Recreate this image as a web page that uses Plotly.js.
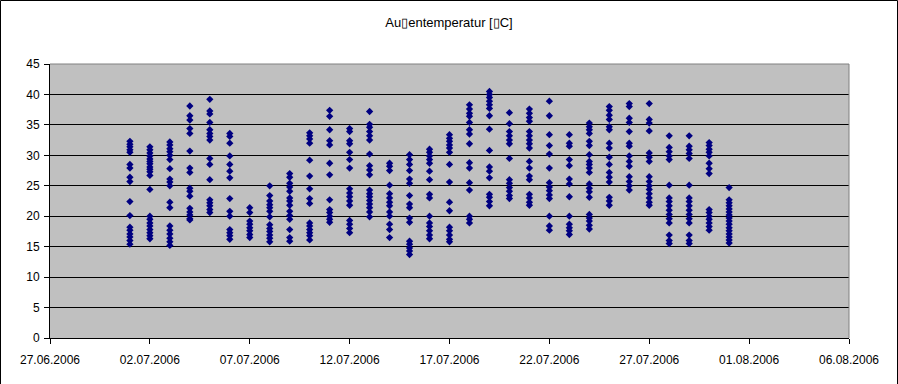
<!DOCTYPE html>
<html>
<head>
<meta charset="utf-8">
<script src="https://cdn.plot.ly/plotly-3.0.1.min.js"></script>
<style>
  html, body { margin: 0; padding: 0; background: #ffffff; }
  #chart { width: 898px; height: 384px; }
</style>
</head>
<body>
<div id="chart"></div>
<script>
// Day of measurement (all hourly readings of a day share the day's date)
const days = [
  '2006-07-01','2006-07-02','2006-07-03','2006-07-04','2006-07-05','2006-07-06','2006-07-07',
  '2006-07-08','2006-07-09','2006-07-10','2006-07-11','2006-07-12','2006-07-13','2006-07-14',
  '2006-07-15','2006-07-16','2006-07-17','2006-07-18','2006-07-19','2006-07-20','2006-07-21',
  '2006-07-22','2006-07-23','2006-07-24','2006-07-25','2006-07-26','2006-07-27','2006-07-28',
  '2006-07-29','2006-07-30','2006-07-31'
];

// Temperature readings per day (°C)
const t01 = [32.3, 31.8, 31.4, 30.9, 30.5, 28.5, 27.9, 26.4, 25.7, 22.4, 20.1, 18.2, 17.7, 17.1, 16.6, 16.0, 15.4];
const t02 = [31.4, 30.9, 30.4, 29.9, 29.4, 29.0, 28.6, 28.1, 27.7, 27.3, 26.7, 24.4, 20.0, 19.5, 18.9, 18.4, 17.8, 17.3, 16.8, 16.3];
const t03 = [32.2, 31.7, 31.1, 30.6, 30.0, 29.3, 27.8, 26.1, 25.6, 25.0, 22.3, 21.4, 18.4, 17.7, 17.1, 16.4, 15.8, 15.2];
const t04 = [38.1, 36.5, 35.8, 34.4, 33.6, 30.7, 27.9, 27.2, 24.6, 24.1, 23.3, 21.3, 20.7, 20.2, 19.6, 19.4];
const t05 = [39.2, 37.3, 36.8, 35.4, 34.2, 33.6, 33.1, 32.5, 29.5, 28.5, 26.0, 22.7, 22.2, 21.7, 21.1, 20.6];
const t06 = [33.6, 33.1, 32.0, 29.9, 28.5, 27.4, 26.3, 22.9, 20.8, 20.0, 17.8, 17.3, 16.8, 16.2];
const t07 = [21.4, 20.6, 19.2, 18.7, 18.1, 17.6, 17.0, 16.5];
const t08 = [25.0, 23.4, 22.5, 21.9, 21.4, 20.8, 19.9, 18.6, 18.0, 17.5, 16.9, 16.4, 15.8];
const t09 = [27.0, 26.4, 25.4, 24.8, 24.1, 23.0, 22.5, 21.8, 20.8, 20.1, 19.5, 17.8, 16.5, 15.9];
const t10 = [33.7, 33.2, 32.7, 32.0, 29.2, 26.6, 24.5, 22.9, 22.1, 18.9, 18.4, 17.8, 17.3, 16.8, 16.1];
const t11 = [37.4, 36.4, 34.2, 32.4, 31.7, 28.7, 26.8, 22.7, 21.1, 20.6, 20.0, 19.5, 19.0];
const t12 = [34.4, 33.9, 32.4, 31.9, 30.5, 29.3, 27.9, 24.5, 23.8, 23.2, 22.5, 21.8, 19.3, 18.7, 18.0, 17.3];
const t13 = [37.2, 35.1, 34.6, 33.9, 33.2, 32.5, 30.2, 28.3, 27.6, 26.8, 24.3, 23.7, 23.2, 22.6, 22.0, 21.4, 20.7, 19.9];
const t14 = [28.7, 28.2, 27.5, 25.1, 23.7, 23.0, 22.3, 21.7, 20.7, 20.0, 18.7, 17.8, 16.5];
const t15 = [30.1, 29.3, 28.5, 27.5, 26.1, 25.4, 23.4, 22.0, 21.4, 19.7, 19.0, 15.9, 15.4, 14.8, 14.3, 13.7];
const t16 = [31.0, 30.5, 29.9, 29.3, 28.7, 27.4, 26.0, 23.6, 23.0, 20.0, 18.9, 18.3, 17.6, 16.9, 16.3];
const t17 = [33.4, 32.8, 32.3, 31.7, 31.2, 30.5, 28.5, 25.6, 22.3, 20.9, 18.2, 17.6, 16.9, 16.2, 15.8];
const t18 = [38.3, 37.6, 36.9, 36.4, 35.4, 34.2, 33.5, 31.9, 28.8, 27.9, 25.5, 24.3, 20.0, 19.5, 18.9];
const t19 = [40.5, 40.0, 39.5, 38.9, 38.3, 37.7, 36.5, 34.3, 30.8, 28.1, 27.4, 26.3, 23.6, 23.1, 22.4, 21.7];
const t20 = [37.0, 35.2, 33.9, 33.2, 32.5, 31.9, 29.5, 26.0, 25.4, 24.7, 24.1, 23.4, 22.9];
const t21 = [37.6, 36.9, 36.2, 35.6, 33.9, 33.2, 32.5, 31.9, 31.2, 29.0, 27.9, 26.6, 26.0, 23.6, 23.0, 22.3, 21.8];
const t22 = [38.9, 36.5, 33.4, 31.6, 30.2, 27.9, 25.5, 24.8, 24.2, 23.5, 22.9, 20.0, 18.4, 17.7];
const t23 = [33.4, 32.0, 31.5, 29.3, 28.3, 26.1, 25.3, 23.2, 20.0, 18.7, 18.1, 17.6, 17.0];
const t24 = [35.3, 34.7, 34.2, 33.6, 32.3, 31.6, 30.1, 29.0, 28.5, 27.9, 27.2, 25.3, 24.6, 24.0, 23.1, 20.3, 19.7, 19.2, 18.5, 17.9];
const t25 = [38.0, 37.4, 36.6, 35.9, 34.7, 34.2, 32.0, 31.2, 29.7, 28.5, 27.2, 26.4, 25.6, 23.1, 22.5, 21.8];
const t26 = [38.5, 38.0, 36.1, 35.4, 33.9, 32.0, 31.5, 29.9, 29.0, 28.2, 26.5, 25.7, 25.0, 24.3];
const t27 = [38.5, 35.9, 35.3, 34.0, 30.4, 29.7, 29.0, 26.5, 25.7, 25.0, 24.4, 23.7, 23.0, 22.3, 21.8];
const t28 = [33.2, 31.3, 30.6, 29.9, 29.3, 25.1, 23.0, 22.4, 21.7, 21.0, 20.3, 19.6, 18.9, 16.9, 16.0, 15.5];
const t29 = [33.2, 31.5, 30.9, 30.3, 29.5, 25.1, 23.0, 22.4, 21.7, 21.0, 20.3, 19.6, 18.9, 16.9, 16.0, 15.5];
const t30 = [32.1, 31.6, 31.0, 30.5, 29.9, 28.7, 27.8, 27.0, 21.1, 20.6, 20.0, 19.5, 18.9, 18.3, 17.7];
const t31 = [24.7, 22.7, 22.2, 21.7, 21.2, 20.7, 20.2, 19.7, 19.2, 18.7, 18.1, 17.6, 17.1, 16.6, 16.1, 15.6];

const dayValues = [t01,t02,t03,t04,t05,t06,t07,t08,t09,t10,t11,t12,t13,t14,t15,t16,
                   t17,t18,t19,t20,t21,t22,t23,t24,t25,t26,t27,t28,t29,t30,t31];

const xTickStart = '2006-06-27';
const xRange = ['2006-06-27', '2006-08-06'];
const yRange = [0, 45];
const titleText = 'Au\u25AFentemperatur [\u25AFC]';

// flatten into x/y
const xs = [], ys = [];
dayValues.forEach((vals, i) => {
  vals.forEach(v => { xs.push(days[i]); ys.push(v); });
});

const FONT = 'Liberation Sans, Arial, sans-serif';
const W = 898, H = 384, L = 50, R = 49, T = 64, B = 46;
const PW = W - L - R, PH = H - T - B;

const trace = {
  type: 'scatter',
  mode: 'markers',
  x: xs,
  y: ys,
  marker: { symbol: 'diamond', size: 5.6, color: '#000080', line: { width: 0 } },
  hoverinfo: 'x+y',
  showlegend: false
};

const layout = {
  width: W,
  height: H,
  margin: { l: L, r: R, t: T, b: B, pad: 0 },
  paper_bgcolor: '#ffffff',
  plot_bgcolor: '#C0C0C0',
  font: { family: FONT, size: 12, color: '#000000' },
  title: {
    text: titleText,
    font: { family: FONT, size: 13, color: '#000000' },
    x: 0.5, xanchor: 'center',
    y: 1 - 22 / H, yanchor: 'middle', yref: 'container'
  },
  xaxis: {
    type: 'date',
    range: xRange,
    tick0: xTickStart,
    dtick: 5 * 86400000,
    tickformat: '%d.%m.%Y',
    showgrid: false,
    zeroline: false,
    showline: true,
    linecolor: '#000000',
    linewidth: 1,
    ticks: 'outside',
    ticklen: 5,
    tickwidth: 1,
    tickcolor: '#000000',
    tickfont: { family: FONT, size: 12, color: '#000000' },
    ticklabelstandoff: 6,
    fixedrange: true
  },
  yaxis: {
    range: yRange,
    tick0: 0,
    dtick: 5,
    showgrid: true,
    gridcolor: '#000000',
    gridwidth: 1,
    zeroline: false,
    showline: true,
    linecolor: '#000000',
    linewidth: 1,
    ticks: 'outside',
    ticklen: 5,
    tickwidth: 1,
    tickcolor: '#000000',
    tickfont: { family: FONT, size: 12, color: '#000000' },
    ticklabelstandoff: 2,
    fixedrange: true
  },
  shapes: [
    // grey plot-area border (top and right)
    { type: 'line', xref: 'paper', yref: 'paper', x0: 0, x1: 1, y0: 1, y1: 1,
      line: { color: '#808080', width: 1 }, layer: 'above' },
    { type: 'line', xref: 'paper', yref: 'paper', x0: 1, x1: 1, y0: 0, y1: 1,
      line: { color: '#808080', width: 1 }, layer: 'above' },
    // outer chart frame
    { type: 'rect', xref: 'paper', yref: 'paper',
      x0: (0.5 - L) / PW, x1: (W - 0.5 - L) / PW,
      y0: -(H - T - PH - 0.5 + 1) / PH, y1: (PH + T - 0.5) / PH,
      line: { color: '#000000', width: 1 }, fillcolor: 'rgba(0,0,0,0)', layer: 'above' }
  ]
};

Plotly.newPlot('chart', [trace], layout, { displayModeBar: false, staticPlot: true });
</script>
</body>
</html>
